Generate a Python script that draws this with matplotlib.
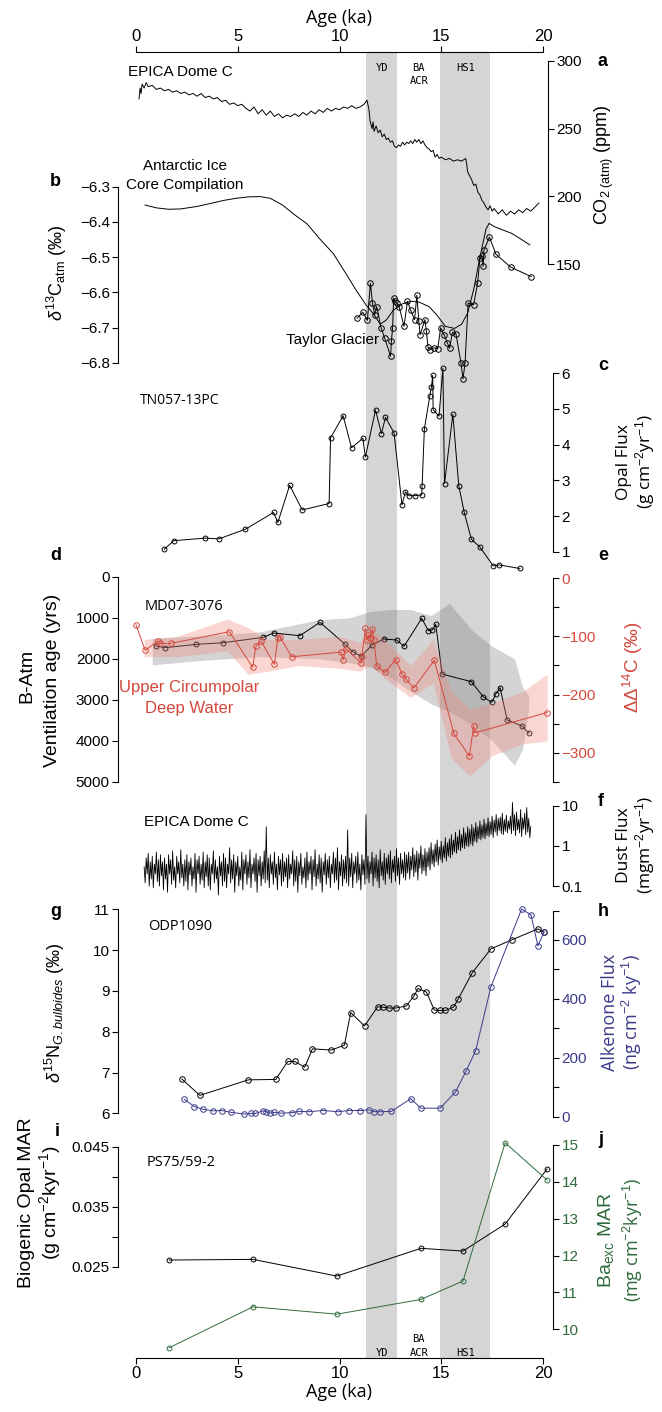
import numpy as np
import matplotlib.pyplot as plt

plt.rcParams['font.family'] = ['Liberation Sans', 'DejaVu Sans']
plt.rcParams['mathtext.fontset'] = 'custom'
plt.rcParams['mathtext.rm'] = 'Liberation Sans'
plt.rcParams['mathtext.it'] = 'Liberation Sans:italic'
plt.rcParams['mathtext.bf'] = 'Liberation Sans:bold'

# ---- data (age in ka) ----
# a: EPICA Dome C CO2
co2_age = [0.15, 0.2, 0.25, 0.3, 0.4, 0.5, 0.6, 0.8, 1.0, 1.2, 1.4, 1.6, 1.8, 2.0, 2.2, 2.4, 2.6, 2.8,
           3.0, 3.2, 3.4, 3.6, 3.8, 4.0, 4.2, 4.4, 4.6, 4.8, 5.0, 5.2, 5.4, 5.6, 5.8, 6.0, 6.2, 6.4,
           6.6, 6.8, 7.0, 7.2, 7.4, 7.6, 7.8, 8.0, 8.2, 8.4, 8.6, 8.8, 9.0, 9.2, 9.4, 9.6, 9.8, 10.0,
           10.2, 10.4, 10.6, 10.8, 11.0, 11.2, 11.35, 11.45, 11.5, 11.6, 11.65, 11.7, 11.8, 11.9,
           12.0, 12.1, 12.2, 12.3, 12.4, 12.5, 12.6, 12.7, 12.8, 12.9, 13.0, 13.1, 13.2, 13.3, 13.4,
           13.5, 13.6, 13.7, 13.8, 13.9, 14.0, 14.1, 14.2, 14.3, 14.4, 14.5, 14.6, 14.7, 14.8, 14.9,
           15.0, 15.2, 15.4, 15.6, 15.8, 16.0, 16.2, 16.25, 16.3, 16.4, 16.5, 16.6, 16.7, 16.8, 16.9,
           17.0, 17.1, 17.2, 17.3, 17.4, 17.5, 17.6, 17.8, 18.0, 18.2, 18.4, 18.6, 18.8, 19.0, 19.2,
           19.4, 19.6, 19.8]
co2_ppm = [272, 280, 276, 283, 280, 284, 281, 282, 279, 280, 278, 279, 277, 278, 276, 277, 275, 276,
           274, 276, 273, 274, 272, 273, 270, 271, 268, 269, 267, 268, 265, 263, 266, 261, 264, 260,
           263, 259, 261, 258, 260, 259, 261, 259, 262, 260, 263, 261, 264, 262, 265, 263, 265, 264,
           266, 265, 267, 265, 266, 268, 271, 264, 256, 250, 255, 248, 252, 247,
           249, 244, 246, 242, 243, 240, 241, 237, 236, 238, 237, 240, 238, 240, 239,
           241, 239, 242, 240, 242, 239, 241, 238, 236, 235, 233, 234, 229, 231, 228,
           229, 227, 228, 226, 227, 226, 228, 224, 218, 215, 212, 208, 209, 203, 201,
           197, 195, 192, 190, 193, 189, 191, 187, 190, 186, 189, 187, 190, 188, 191,
           189, 192, 195]

# b: d13C atm
comp_age = [0.45, 1.0, 1.6, 2.2, 3.0, 3.7, 4.3, 4.9, 5.5, 6.1, 6.6, 7.2, 7.8, 8.4, 9.0, 9.7, 10.3,
            10.8, 11.3, 11.7, 12.0, 12.3, 12.65, 13.1, 13.5, 13.9, 14.4, 14.8, 15.2, 15.65, 16.0,
            16.3, 16.6, 16.9, 17.2, 17.35, 17.6, 17.9, 18.45, 18.95, 19.35]
comp_d13c = [-6.352, -6.36, -6.364, -6.363, -6.356, -6.347, -6.339, -6.333, -6.329, -6.328, -6.333,
             -6.352, -6.38, -6.405, -6.446, -6.49, -6.545, -6.592, -6.635, -6.663, -6.69, -6.678,
             -6.65, -6.632, -6.625, -6.627, -6.64, -6.665, -6.696, -6.702, -6.69, -6.658, -6.59,
             -6.5, -6.42, -6.404, -6.413, -6.42, -6.432, -6.45, -6.465]
tg_age = [10.86, 11.15, 11.37, 11.52, 11.62, 11.73, 11.83, 12.04, 12.22, 12.51, 12.55, 12.61, 12.66,
          12.72, 12.82, 12.93, 13.17, 13.34, 13.49, 13.69, 13.8, 13.9, 13.96, 14.2, 14.27, 14.35,
          14.46, 14.62, 14.83, 14.97, 15.14, 15.3, 15.41, 15.55, 15.72, 15.97, 16.07, 16.17, 16.32,
          16.59, 16.79, 16.9, 17.0, 17.06, 17.1, 17.37, 17.68, 18.41, 19.42]
tg_d13c = [-6.673, -6.656, -6.679, -6.574, -6.63, -6.663, -6.64, -6.70, -6.729, -6.781, -6.739,
           -6.70, -6.616, -6.625, -6.63, -6.64, -6.696, -6.625, -6.649, -6.677, -6.608, -6.682,
           -6.72, -6.677, -6.71, -6.755, -6.762, -6.757, -6.759, -6.70, -6.72, -6.743, -6.758,
           -6.713, -6.717, -6.80, -6.845, -6.80, -6.63, -6.635, -6.572, -6.503, -6.496, -6.526,
           -6.479, -6.443, -6.491, -6.528, -6.555]

# c: TN057-13PC opal flux
opal_age = [1.39, 1.86, 3.39, 4.07, 5.38, 6.76, 6.97, 7.55, 8.17, 9.49, 9.56, 10.18, 10.59, 11.15,
            11.27, 11.77, 12.06, 12.26, 12.68, 13.07, 13.24, 13.42, 13.69, 14.04, 14.06, 14.17,
            14.44, 14.52, 14.58, 14.6, 14.89, 15.08, 15.16, 15.57, 15.86, 16.13, 16.48, 16.9,
            17.56, 17.83, 18.86]
opal_flux = [1.07, 1.31, 1.38, 1.36, 1.63, 2.1, 1.82, 2.86, 2.17, 2.35, 4.19, 4.81, 3.91, 4.18,
             3.65, 4.97, 4.31, 4.77, 4.33, 2.31, 2.68, 2.57, 2.57, 2.59, 2.85, 4.44, 5.37, 5.63,
             5.94, 4.98, 4.8, 6.14, 2.91, 4.85, 2.85, 2.1, 1.35, 1.13, 0.6, 0.63, 0.53]

# d: MD07-3076 B-Atm ventilation age
vent_age = [0.97, 1.43, 2.96, 4.28, 6.25, 6.76, 8.05, 9.04, 10.28, 10.65, 11.07, 11.58, 12.18,
            12.82, 13.17, 14.04, 14.37, 14.56, 14.73, 15.04, 16.48, 17.06, 17.48, 17.68, 17.89,
            18.24, 18.97, 19.32]
vent_yrs = [1691, 1732, 1650, 1610, 1480, 1374, 1439, 1114, 1650, 1829, 1943, 1675, 1520, 1545,
            1699, 1016, 1317, 1301, 1163, 2374, 2561, 2927, 3065, 2862, 2707, 3496, 3642, 3821]
vent_band_age = [0.8, 3, 6, 9, 10.5, 11.5, 12.5, 13.5, 14.5, 15.4, 16.5, 17.5, 18.6, 19.0, 19.3]
vent_band_top = [1500, 1450, 1350, 1050, 1000, 850, 800, 800, 950, 650, 1300, 1700, 2000, 2700, 2900]
vent_band_bot = [2150, 2050, 1950, 2000, 2100, 2200, 2450, 2800, 3100, 3300, 3600, 4000, 4600, 4200, 3200]

# e: Upper Circumpolar Deep Water DD14C
ucdw_age = [0.0, 0.45, 1.08, 1.18, 1.7, 4.59, 5.73, 5.89, 6.14, 6.8, 6.97, 7.07, 7.65, 10.07, 10.18,
            10.32, 11.07, 11.1, 11.27, 11.35, 11.42, 11.52, 11.62, 11.69, 11.83, 12.24, 12.76, 13.07,
            13.28, 13.65, 14.66, 15.62, 16.38, 16.59, 16.65, 20.2]
ucdw_d14c = [-80, -124, -108, -112, -112, -92, -153, -117, -108, -148, -102, -101, -135, -127, -140,
             -121, -146, -135, -86, -106, -98, -102, -87, -106, -151, -162, -140, -164, -174, -189,
             -141, -267, -306, -255, -266, -231]
ucdw_band_age = [0.4, 2, 4.5, 5.5, 6.5, 8, 10, 11, 11.5, 12.5, 13.5, 14.6, 15.5, 16.4, 17.5, 19, 20.2]
ucdw_band_top = [-105, -100, -70, -85, -105, -105, -100, -110, -85, -115, -150, -105, -195, -225,
                 -215, -195, -165]
ucdw_band_bot = [-135, -135, -125, -165, -160, -150, -155, -160, -150, -180, -205, -180, -310, -340,
                 -305, -285, -280]

# f: EPICA Dome C dust flux, 0.05 ka steps from 0.4 to 19.4 ka
dust_age = np.round(np.arange(0.4, 19.425, 0.05), 3)
dust_flux = [0.3, 0.12, 0.5, 0.2, 0.65, 0.1, 0.4, 0.15, 0.55, 0.09, 0.35, 0.2, 0.7, 0.13, 0.45, 0.1, 0.6, 0.18, 0.4, 0.08,
             0.5, 0.15, 0.35, 0.07, 0.6, 0.2, 0.45, 0.11, 0.75, 0.14, 0.3, 0.09, 0.55, 0.2, 0.4, 0.12, 0.8, 0.16, 0.35, 0.1,
             0.45, 0.13, 0.6, 0.08, 0.4, 0.19, 0.5, 0.1, 0.3, 0.15, 0.65, 0.07, 0.45, 0.2, 0.55, 0.11, 0.35, 0.14, 0.7, 0.09,
             0.4, 0.17, 0.6, 0.1, 0.5, 0.08, 0.35, 0.2, 0.75, 0.12, 0.45, 0.15, 0.3, 0.06, 0.55, 0.18, 0.4, 0.1, 0.65, 0.13,
             0.5, 0.09, 0.35, 0.2, 0.9, 0.12, 0.45, 0.15, 0.6, 0.07, 0.4, 0.18, 0.55, 0.1, 0.3, 0.14, 0.7, 0.08, 0.45, 0.2,
             0.6, 0.11, 0.4, 0.16, 0.8, 0.09, 0.35, 0.2, 0.5, 0.13, 0.65, 0.07, 0.45, 0.18, 0.55, 0.1, 0.4, 0.15, 0.75, 0.12,
             3.0, 0.14, 0.5, 0.09, 0.6, 0.2, 0.4, 0.11, 0.7, 0.16, 0.35, 0.08, 0.55, 0.19, 0.45, 0.1, 0.65, 0.13, 0.4, 0.17,
             0.5, 0.09, 0.6, 0.15, 0.35, 0.2, 0.75, 0.1, 0.45, 0.13, 0.55, 0.07, 0.4, 0.18, 0.65, 0.11, 0.3, 0.16, 0.5, 0.09,
             0.7, 0.14, 0.4, 0.2, 0.55, 0.08, 0.45, 0.17, 0.8, 0.1, 0.35, 0.15, 0.6, 0.12, 0.5, 0.07, 0.4, 0.19, 0.65, 0.11,
             0.45, 0.16, 0.55, 0.09, 0.35, 0.2, 0.7, 0.12, 0.5, 0.14, 0.9, 0.08, 0.4, 0.18, 0.6, 0.1, 0.45, 0.15, 0.55, 0.12,
             2.5, 0.1, 0.5, 0.17, 0.65, 0.09, 0.4, 0.2, 0.55, 0.12, 0.7, 0.14, 0.35, 0.08, 0.6, 0.19, 0.45, 0.11, 6.0, 0.15,
             0.55, 0.12, 0.4, 0.2, 0.7, 0.1, 0.5, 0.16, 0.6, 0.13, 0.45, 0.09, 0.8, 0.18, 0.4, 0.14, 0.65, 0.11, 0.5, 0.2,
             0.6, 0.15, 0.75, 0.12, 0.45, 0.22, 0.55, 0.13, 0.85, 0.18, 0.5, 0.11, 0.65, 0.2, 0.45, 0.16, 0.7, 0.14, 0.6, 0.21,
             0.7, 0.15, 0.55, 0.25, 0.9, 0.17, 0.6, 0.22, 0.75, 0.14, 0.65, 0.28, 1.0, 0.2, 0.6, 0.24, 0.85, 0.18, 0.7, 0.3,
             0.9, 0.25, 1.2, 0.35, 0.8, 0.3, 1.1, 0.4, 1.4, 0.33, 0.95, 0.45, 1.3, 0.38, 1.0, 0.5, 1.6, 0.42, 1.2, 0.55,
             1.5, 0.5, 1.9, 0.6, 1.4, 0.7, 2.2, 0.65, 1.7, 0.8, 2.5, 0.75, 1.9, 0.9, 2.8, 0.85, 2.1, 1.0, 3.0, 0.95,
             2.6, 1.1, 3.4, 1.0, 2.8, 1.3, 3.8, 1.2, 3.0, 1.5, 4.2, 1.4, 3.3, 1.6, 4.6, 1.5, 3.6, 1.8, 5.0, 1.7,
             4.0, 1.9, 5.5, 1.6, 4.4, 2.2, 6.0, 1.8, 4.8, 2.4, 5.2, 2.0, 6.5, 1.9, 4.5, 2.3, 5.8, 2.1, 4.2, 2.6,
             5.5, 2.0, 12.0, 2.4, 6.0, 1.8, 7.0, 2.5, 4.5, 2.1, 8.0, 1.7, 5.0, 2.6, 6.5, 1.9, 9.0, 2.2, 4.8, 1.6,
             3.0]

# g: ODP1090 d15N
d15n_age = [2.25, 3.14, 5.52, 6.87, 7.45, 7.8, 8.29, 8.67, 9.6, 10.24, 10.55, 11.23, 11.87, 12.14,
            12.45, 12.76, 13.28, 13.65, 13.86, 14.27, 14.66, 14.93, 15.2, 15.6, 15.82, 16.53, 17.44,
            18.46, 19.75, 20.05]
d15n = [6.84, 6.44, 6.82, 6.83, 7.27, 7.27, 7.13, 7.58, 7.55, 7.67, 8.47, 8.14, 8.61, 8.6, 8.58,
        8.58, 8.63, 8.87, 9.06, 8.97, 8.53, 8.52, 8.52, 8.6, 8.79, 9.45, 10.03, 10.25, 10.52, 10.44]

# h: ODP1090 alkenone flux
alk_age = [2.38, 2.87, 3.31, 3.76, 4.22, 4.65, 5.32, 5.63, 5.87, 6.25, 6.39, 6.6, 6.8, 7.14, 7.69,
           8.0, 8.48, 9.2, 9.93, 10.49, 11.02, 11.46, 11.69, 12.0, 12.55, 13.5, 14.0, 14.95, 15.7,
           16.22, 16.69, 17.44, 18.95, 19.41, 19.75, 20.05]
alk_flux = [59, 34, 25, 20, 21, 15, 9, 11, 11, 20, 17, 12, 15, 12, 14, 18, 17, 21, 17, 21, 21, 23,
            17, 17, 18, 61, 29, 29, 84, 155, 224, 441, 705, 685, 580, 627]

# i, j: PS75/59-2
ps_age = [1.63, 5.75, 9.87, 14.0, 16.07, 18.14, 20.2]
opal_mar = [0.02611, 0.02622, 0.02344, 0.02806, 0.02761, 0.03211, 0.04128]
ba_age = [1.63, 5.75, 9.87, 14.0, 16.07, 18.14, 20.2]
ba_mar = [9.5, 10.61, 10.41, 10.81, 11.31, 15.06, 14.05]

yd = (11.3, 12.85)
hs1 = (14.95, 17.4)

RED = '#d4483c'
BLUE = '#3b3a8a'
GREEN = '#2f6b3c'

W, H = 662, 1412
X0, X1 = 136, 543

fig = plt.figure(figsize=(W / 100, H / 100), dpi=100)


def fx(px):
    return px / W


def fy(py):
    return 1 - py / H


def panel(top, bot, lo, hi, side, pos, color='black', log=False):
    ax = fig.add_axes([fx(X0), fy(bot), fx(X1) - fx(X0), (bot - top) / H])
    ax.patch.set_alpha(0)
    ax.set_xlim(0, 20)
    if log:
        ax.set_yscale('log')
    ax.set_ylim(lo, hi)
    for s in ['top', 'bottom', 'left', 'right']:
        ax.spines[s].set_visible(s == side)
    ax.spines[side].set_position(('axes', pos))
    ax.spines[side].set_linewidth(0.8)
    ax.set_xticks([])
    ax.yaxis.set_ticks_position(side)
    ax.tick_params(axis='y', direction='out', length=4, width=0.8, labelsize=11,
                   pad=2, labelcolor=color)
    ax.minorticks_off()
    return ax


def series(ax, x, y, color='black', ms=4):
    ax.plot(x, y, '-o', color=color, lw=0.7, ms=ms, mfc='none', mew=0.7, clip_on=False)


def vtext(px, py, s, size=13, color='black', family=None):
    kw = {}
    if family:
        kw['family'] = family
    fig.text(fx(px), fy(py), s, rotation=90, ha='center', va='center', fontsize=size,
             color=color, linespacing=1.0, **kw)


def htext(px, py, s, size=11, color='black', ha='left', weight='normal', family=None):
    kw = {}
    if family:
        kw['family'] = family
    fig.text(fx(px), fy(py), s, ha=ha, va='center', fontsize=size, color=color,
             weight=weight, **kw)


def kx(ka):
    return X0 + ka * (X1 - X0) / 20


# base axis with shaded intervals and age axes
base = fig.add_axes([fx(X0), fy(1358), fx(X1) - fx(X0), (1358 - 52) / H])
base.set_xlim(0, 20)
base.set_ylim(0, 1)
base.axvspan(*yd, color='#d5d5d5', lw=0)
base.axvspan(*hs1, color='#d5d5d5', lw=0)
base.spines['left'].set_visible(False)
base.spines['right'].set_visible(False)
base.set_yticks([])
base.set_xticks([0, 5, 10, 15, 20])
base.tick_params(axis='x', top=True, labeltop=True, bottom=True, labelbottom=True,
                 direction='out', length=4, width=0.8, labelsize=12, pad=2)
for s in ['top', 'bottom']:
    base.spines[s].set_linewidth(0.8)
base.set_xlabel('Age (ka)', fontsize=13, labelpad=1, family='Open Sans')
htext(kx(10), 18, 'Age (ka)', size=13, ha='center', family='Open Sans')

# interval labels
for yy, lab in [(68, 'YD'), (1353, 'YD')]:
    htext(kx(sum(yd) / 2), yy, lab, size=7.5, ha='center', family='DejaVu Sans Mono')
htext(kx(sum(hs1) / 2), 68, 'HS1', size=7.5, ha='center', family='DejaVu Sans Mono')
htext(kx(sum(hs1) / 2), 1353, 'HS1', size=7.5, ha='center', family='DejaVu Sans Mono')
htext(kx(13.9), 68, 'BA', size=7.5, ha='center', family='DejaVu Sans Mono')
htext(kx(13.9), 81, 'ACR', size=7.5, ha='center', family='DejaVu Sans Mono')
htext(kx(13.9), 1339, 'BA', size=7.5, ha='center', family='DejaVu Sans Mono')
htext(kx(13.9), 1353, 'ACR', size=7.5, ha='center', family='DejaVu Sans Mono')

# a: CO2
ax_a = panel(61, 264, 150, 300, 'right', 1.012)
ax_a.set_yticks([150, 200, 250, 300])
ax_a.plot(co2_age, co2_ppm, color='black', lw=0.7, clip_on=False)
htext(kx(-0.4), 72, 'EPICA Dome C', size=11)
vtext(604, 165, r'CO$_{2\ \mathrm{(atm)}}$ (ppm)', size=13)
htext(598, 62, 'a', size=13, weight='bold')

# b: d13C
ax_b = panel(186.7, 363, -6.8, -6.3, 'left', -0.044)
ax_b.set_yticks([-6.3, -6.4, -6.5, -6.6, -6.7, -6.8])
ax_b.set_yticklabels(['\u22126.3', '\u22126.4', '\u22126.5', '\u22126.6', '\u22126.7', '\u22126.8'])
ax_b.plot(comp_age, comp_d13c, color='black', lw=0.7, clip_on=False)
series(ax_b, tg_age, tg_d13c)
htext(kx(2.4), 166, 'Antarctic Ice', size=11, ha='center')
htext(kx(2.4), 185, 'Core Compilation', size=11, ha='center')
htext(kx(11.95), 340, 'Taylor Glacier', size=11, ha='right')
vtext(57, 273, r'$\delta^{13}$C$_{\mathrm{atm}}$ (‰)', size=13)
htext(50, 182, 'b', size=13, weight='bold')

# c: opal flux
ax_c = panel(373.3, 551.7, 1, 6, 'right', 1.025)
ax_c.set_yticks([1, 2, 3, 4, 5, 6])
series(ax_c, opal_age, opal_flux, ms=3.5)
htext(kx(0.2), 400, 'TN057-13PC', size=10, family='Open Sans')
vtext(624, 462, 'Opal Flux', size=12.5, family='Open Sans')
vtext(645, 462, r'(g cm$^{-2}$yr$^{-1}$)', size=12.5, family='Open Sans')
htext(598, 365, 'c', size=13, weight='bold')

# d: ventilation age
ax_d = panel(576.7, 781.7, 5000, 0, 'left', -0.044)
ax_d.set_yticks([0, 1000, 2000, 3000, 4000, 5000])
ax_d.fill_between(vent_band_age, vent_band_top, vent_band_bot, color='0.45', alpha=0.3, lw=0,
                  clip_on=False)
series(ax_d, vent_age, vent_yrs, ms=3.5)
htext(kx(0.4), 607, 'MD07-3076', size=10.5, family='Open Sans')
vtext(27, 676, 'B-Atm', size=14)
vtext(53, 680, 'Ventilation age (yrs)', size=14)
htext(50, 555, 'd', size=13, weight='bold')

# e: UCDW DD14C
ax_e = panel(578.3, 781.7, -350, 0, 'right', 1.025, color=RED)
ax_e.set_yticks(np.arange(-350, 1, 50))
ax_e.set_yticklabels(['' if v % 100 else str(v).replace('-', '\u2212') for v in range(-350, 1, 50)])
ax_e.fill_between(ucdw_band_age, ucdw_band_top, ucdw_band_bot, color='#ee8a80', alpha=0.35, lw=0,
                  clip_on=False)
series(ax_e, ucdw_age, ucdw_d14c, color=RED)
htext(kx(2.6), 688, 'Upper Circumpolar', size=12, color=RED, ha='center')
htext(kx(2.6), 709, 'Deep Water', size=12, color=RED, ha='center')
vtext(633, 667, r'$\Delta\Delta^{14}$C (‰)', size=13.5, color=RED)
htext(598, 556, 'e', size=13, weight='bold')

# f: dust flux
ax_f = panel(805.7, 886, 0.1, 10, 'right', 1.025, log=True)
ax_f.set_yticks([0.1, 1, 10])
ax_f.set_yticklabels(['0.1', '1', '10'])
ax_f.minorticks_off()
ax_f.plot(dust_age, dust_flux, color='black', lw=0.6, clip_on=False)
htext(kx(0.4), 822, 'EPICA Dome C', size=11)
vtext(624, 845, 'Dust Flux', size=12.5, family='Open Sans')
vtext(645, 845, r'(mgm$^{-2}$yr$^{-1}$)', size=12.5, family='Open Sans')
htext(598, 802, 'f', size=13, weight='bold')

# g: d15N
ax_g = panel(909.3, 1113.3, 6, 11, 'left', -0.044)
ax_g.set_yticks([6, 7, 8, 9, 10, 11])
series(ax_g, d15n_age, d15n)
htext(kx(0.6), 927, 'ODP1090', size=10.5, family='Open Sans')
vtext(55, 1013, r'$\delta^{15}$N$_{\mathit{G.bulloides}}$ (‰)', size=13)
htext(50, 912, 'g', size=13, weight='bold')

# h: alkenone flux
ax_h = panel(910.5, 1116.7, 0, 700, 'right', 1.025, color=BLUE)
ax_h.set_yticks(np.arange(0, 701, 100))
ax_h.set_yticklabels([str(v) if v % 200 == 0 else '' for v in range(0, 701, 100)])
series(ax_h, alk_age, alk_flux, color=BLUE)
vtext(610, 1012, 'Alkenone Flux', size=13, color=BLUE, family='Open Sans')
vtext(632, 1012, r'(ng cm$^{-2}$ ky$^{-1}$)', size=13, color=BLUE, family='Open Sans')
htext(598, 912, 'h', size=13, weight='bold')

# i: opal MAR
ax_i = panel(1146.7, 1266.7, 0.025, 0.045, 'left', -0.044)
ax_i.set_yticks([0.025, 0.03, 0.035, 0.04, 0.045])
ax_i.set_yticklabels(['0.025', '', '0.035', '', '0.045'])
series(ax_i, ps_age, opal_mar, ms=3.5)
htext(kx(0.5), 1163, 'PS75/59-2', size=10.5, family='Open Sans')
vtext(27, 1203, 'Biogenic Opal MAR', size=14)
vtext(50, 1203, r'(g cm$^{-2}$kyr$^{-1}$)', size=14)
htext(55, 1132, 'i', size=13, weight='bold')

# j: Ba MAR
ax_j = panel(1145, 1329.3, 10, 15, 'right', 1.025, color=GREEN)
ax_j.set_yticks([10, 11, 12, 13, 14, 15])
series(ax_j, ba_age, ba_mar, color=GREEN, ms=3.5)
vtext(606, 1240, r'Ba$_{\mathrm{exc}}$ MAR', size=14, color=GREEN)
vtext(633, 1240, r'(mg cm$^{-2}$kyr$^{-1}$)', size=13, color=GREEN, family='Open Sans')
htext(598, 1140, 'j', size=13, weight='bold')

fig.savefig('out.png', dpi=100)
